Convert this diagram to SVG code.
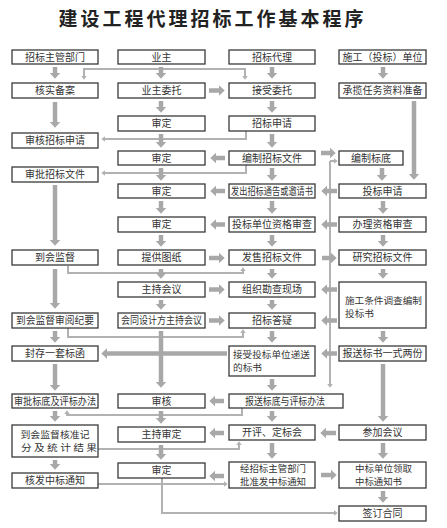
<svg xmlns="http://www.w3.org/2000/svg" width="447" height="528" viewBox="0 0 447 528">
<style>
.b{fill:#fff;stroke:#3a3a3a;stroke-width:1.3}
text{font-family:"Noto Sans CJK SC","Noto Sans",sans-serif;font-size:10px;fill:#333}
.c{text-anchor:middle}
.s{font-size:9px}
.t{fill:none;stroke:#a8a8a8;stroke-width:4.5}
.n{fill:none;stroke:#b2b2b2;stroke-width:2}
</style>
<defs>
<marker id="ah" markerUnits="userSpaceOnUse" markerWidth="7" markerHeight="12" refX="0.3" refY="5.5" orient="auto"><path d="M0,0 L6,5.5 L0,11 Z" fill="#a8a8a8"/></marker>
<marker id="as" markerUnits="userSpaceOnUse" markerWidth="5" markerHeight="7" refX="0.3" refY="3" orient="auto"><path d="M0,0 L4,3 L0,6 Z" fill="#b2b2b2"/></marker>
</defs>
<rect width="447" height="528" fill="#fff"/>
<text x="212.5" y="26" class="c" style="font-size:19px;font-weight:bold;letter-spacing:3px;fill:#222">建设工程代理招标工作基本程序</text>

<g id="connectors">
<g marker-end="url(#as)" class="n">
<path d="M161,69 H84 V76"/>
<path d="M161,69 H245 V76"/>
<path d="M246,131 V139 H105"/>
<path d="M246,165 V173 H105"/>
<path d="M68,266 V273 H243 V271"/>
<path d="M68,328 V337 H243 V333"/>
<path d="M242,408 V415 H67 V414"/>
<path d="M98,449 H239 V445"/>
<path d="M98,484 H224"/>
<path d="M162,478 V513 H334"/>
<path d="M330,161 V384"/>
<path d="M330,161 H334"/>
</g>
<g marker-end="url(#ah)" class="t">
<path d="M55,67 V73"/><path d="M55,102 V122"/><path d="M55,185 V240"/><path d="M55,269 V303"/><path d="M55,331 V337"/><path d="M55,364 V385"/><path d="M55,411 V416"/><path d="M55,460 V464"/>
<path d="M161,67 V73"/><path d="M161,101 V107"/><path d="M161,134 V142"/><path d="M161,168 V175"/><path d="M161,201 V208"/><path d="M161,235 V241"/><path d="M161,269 V273"/><path d="M161,300 V304"/><path d="M161,331 V382"/><path d="M161,411 V418"/><path d="M161,445 V454"/>
<path d="M272,67 V73"/><path d="M272,101 V107"/><path d="M272,134 V142"/><path d="M272,168 V175"/><path d="M272,201 V208"/><path d="M272,235 V241"/><path d="M272,269 V273"/><path d="M272,300 V304"/><path d="M272,331 V337"/><path d="M272,379 V385"/><path d="M272,411 V416"/><path d="M272,443 V453"/>
<path d="M383,67 V73"/><path d="M382,168 V175"/><path d="M383,201 V208"/><path d="M383,235 V241"/><path d="M383,269 V273"/><path d="M383,331 V337"/><path d="M383,364 V416"/><path d="M383,443 V453"/><path d="M383,491 V497"/>
<path d="M414,101 V174"/>
<path d="M209,90.5 H219"/><path d="M225,158 H216"/><path d="M225,191 H216"/><path d="M225,224.5 H216"/><path d="M209,258 H219"/><path d="M209,289.5 H219"/><path d="M209,320.5 H219"/><path d="M227,353.5 H107"/><path d="M224,401 H215"/><path d="M224,433 H215"/><path d="M224,476 H215"/>
<path d="M321,153 H330"/><path d="M337,191 H327"/><path d="M337,224.5 H327"/><path d="M322,258 H331"/><path d="M337,289.5 H327"/><path d="M337,320.5 H327"/><path d="M337,353.5 H327"/><path d="M336,433 H326"/><path d="M321,475 H331"/>
</g>
</g>

<g id="n1"><rect class="b" x="12" y="50" width="86" height="14"/><text class="c" x="55" y="61">招标主管部门</text></g>
<g id="n2"><rect class="b" x="118" y="50" width="87" height="14"/><text class="c" x="161.5" y="61">业主</text></g>
<g id="n3"><rect class="b" x="229" y="50" width="86" height="14"/><text class="c" x="272" y="61">招标代理</text></g>
<g id="n4"><rect class="b" x="339" y="50" width="87" height="14"/><text class="c" x="382.5" y="61">施工（投标）单位</text></g>
<g id="n5"><rect class="b" x="12" y="83" width="86" height="15"/><text class="c" x="55" y="94">核实备案</text></g>
<g id="n6"><rect class="b" x="118" y="83" width="87" height="15"/><text class="c" x="161.5" y="94">业主委托</text></g>
<g id="n7"><rect class="b" x="229" y="83" width="86" height="15"/><text class="c" x="272" y="94">接受委托</text></g>
<g id="n8"><rect class="b" x="339" y="83" width="87" height="15"/><text class="c" x="382.5" y="94">承揽任务资料准备</text></g>
<g id="n9"><rect class="b" x="118" y="116" width="87" height="15"/><text class="c" x="161.5" y="127">审定</text></g>
<g id="n10"><rect class="b" x="229" y="116" width="86" height="15"/><text class="c" x="272" y="127">招标申请</text></g>
<g id="n11"><rect class="b" x="12" y="133" width="86" height="15"/><text class="c" x="55" y="144">审核招标申请</text></g>
<g id="n12"><rect class="b" x="118" y="151" width="87" height="14"/><text class="c" x="161.5" y="162">审定</text></g>
<g id="n13"><rect class="b" x="229" y="151" width="86" height="14"/><text class="c" x="272" y="162">编制招标文件</text></g>
<g id="n14"><rect class="b" x="339" y="151" width="64" height="14"/><text class="c" x="371" y="162">编制标底</text></g>
<g id="n15"><rect class="b" x="12" y="167" width="86" height="15"/><text class="c" x="55" y="178">审批招标文件</text></g>
<g id="n16"><rect class="b" x="118" y="184" width="87" height="14"/><text class="c" x="161.5" y="195">审定</text></g>
<g id="n17"><rect class="b" x="229" y="184" width="86" height="14"/><text class="c" x="272" y="195" textLength="82" lengthAdjust="spacingAndGlyphs">发出招标通告或邀请书</text></g>
<g id="n18"><rect class="b" x="339" y="184" width="87" height="14"/><text class="c" x="382.5" y="195">投标申请</text></g>
<g id="n19"><rect class="b" x="118" y="217" width="87" height="15"/><text class="c" x="161.5" y="228">审定</text></g>
<g id="n20"><rect class="b" x="229" y="217" width="86" height="15"/><text class="c" x="272" y="228">投标单位资格审查</text></g>
<g id="n21"><rect class="b" x="339" y="217" width="87" height="15"/><text class="c" x="382.5" y="228">办理资格审查</text></g>
<g id="n22"><rect class="b" x="12" y="250" width="86" height="15"/><text class="c" x="55" y="261">到会监督</text></g>
<g id="n23"><rect class="b" x="118" y="250" width="87" height="15"/><text class="c" x="161.5" y="261">提供图纸</text></g>
<g id="n24"><rect class="b" x="229" y="250" width="86" height="15"/><text class="c" x="272" y="261">发售招标文件</text></g>
<g id="n25"><rect class="b" x="339" y="250" width="87" height="15"/><text class="c" x="382.5" y="261">研究招标文件</text></g>
<g id="n26"><rect class="b" x="118" y="282" width="87" height="15"/><text class="c" x="161.5" y="293">主持会议</text></g>
<g id="n27"><rect class="b" x="229" y="282" width="86" height="15"/><text class="c" x="272" y="293">组织勘查现场</text></g>
<g id="n28"><rect class="b" x="339" y="282" width="87" height="46"/><text class="s" x="345" y="304" textLength="77" lengthAdjust="spacingAndGlyphs">施工条件调查编制</text><text class="s" x="345" y="317" textLength="29" lengthAdjust="spacingAndGlyphs">投标书</text></g>
<g id="n29"><rect class="b" x="12" y="313" width="86" height="15"/><text class="c" x="55" y="324" textLength="78" lengthAdjust="spacingAndGlyphs">到会监督审阅纪要</text></g>
<g id="n30"><rect class="b" x="118" y="313" width="87" height="15"/><text class="c" x="161.5" y="324" textLength="81" lengthAdjust="spacingAndGlyphs">会同设计方主持会议</text></g>
<g id="n31"><rect class="b" x="229" y="313" width="86" height="15"/><text class="c" x="272" y="324">招标答疑</text></g>
<g id="n32"><rect class="b" x="12" y="346" width="86" height="15"/><text class="c" x="55" y="357">封存一套标函</text></g>
<g id="n33"><rect class="b" x="229" y="346" width="86" height="30"/><text class="s" x="233" y="357.5" textLength="77" lengthAdjust="spacingAndGlyphs">接受投标单位递送</text><text class="s" x="233" y="370.5" textLength="29" lengthAdjust="spacingAndGlyphs">的标书</text></g>
<g id="n34"><rect class="b" x="339" y="346" width="87" height="15"/><text class="c" x="382.5" y="357">报送标书一式两份</text></g>
<g id="n35"><rect class="b" x="12" y="394" width="86" height="14"/><text class="c" x="55" y="405" textLength="82" lengthAdjust="spacingAndGlyphs">审批标底及评标办法</text></g>
<g id="n36"><rect class="b" x="118" y="394" width="87" height="14"/><text class="c" x="161.5" y="405">审核</text></g>
<g id="n37"><rect class="b" x="229" y="394" width="114" height="14"/><text class="c" x="285" y="405" textLength="80" lengthAdjust="spacingAndGlyphs">报送标底与评标办法</text></g>
<g id="n38"><rect class="b" x="12" y="425" width="86" height="32"/><text class="c s" x="55" y="438" textLength="69" lengthAdjust="spacingAndGlyphs">到会监督核准记</text><text class="c s" x="59" y="451" textLength="76" lengthAdjust="spacingAndGlyphs">分 及 统 计 结 果</text></g>
<g id="n39"><rect class="b" x="118" y="427" width="87" height="15"/><text class="c" x="161.5" y="438">主持审定</text></g>
<g id="n40"><rect class="b" x="229" y="425" width="86" height="15"/><text class="c" x="272" y="436">开评、定标会</text></g>
<g id="n41"><rect class="b" x="339" y="425" width="87" height="15"/><text class="c" x="382.5" y="436">参加会议</text></g>
<g id="n42"><rect class="b" x="118" y="463" width="87" height="15"/><text class="c" x="161.5" y="474">审定</text></g>
<g id="n43"><rect class="b" x="229" y="462" width="86" height="26"/><text class="c s" x="273" y="471.5" textLength="66" lengthAdjust="spacingAndGlyphs">经招标主管部门</text><text class="c s" x="273" y="484.5" textLength="66" lengthAdjust="spacingAndGlyphs">批准发中标通知</text></g>
<g id="n44"><rect class="b" x="339" y="462" width="87" height="26"/><text class="s" x="355" y="471.5" textLength="57" lengthAdjust="spacingAndGlyphs">中标单位领取</text><text class="s" x="355" y="484.5" textLength="47" lengthAdjust="spacingAndGlyphs">中标通知书</text></g>
<g id="n45"><rect class="b" x="12" y="473" width="86" height="15"/><text class="c" x="55" y="484">核发中标通知</text></g>
<g id="n46"><rect class="b" x="339" y="506" width="87" height="15"/><text class="c" x="382.5" y="517">签订合同</text></g>
</svg>
